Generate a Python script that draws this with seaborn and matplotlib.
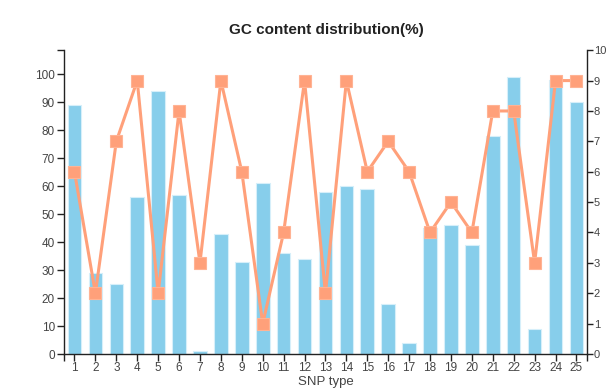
import matplotlib
matplotlib.use("Agg")
import matplotlib.pyplot as plt
import seaborn as sns
import numpy as np
import pandas as pd

# data
snp_types = [str(i) for i in range(1, 26)]
gc_content = [89, 29, 25, 56, 94, 57, 1, 43, 33, 61, 36, 34, 58, 60, 59,
              18, 4, 45, 46, 39, 78, 99, 9, 98, 90]
snp_count = [6, 2, 7, 9, 2, 8, 3, 9, 6, 1, 4, 9, 2, 9, 6,
             7, 6, 4, 5, 4, 8, 8, 3, 9, 9]
left_ticks = list(range(0, 101, 10))
right_ticks = list(range(0, 11))

sns.set_style("white")
plt.rcParams['font.family'] = ['Liberation Sans', 'DejaVu Sans']

df = pd.DataFrame({"snp": snp_types, "gc": gc_content, "count": snp_count})

fig = plt.figure(figsize=(6.08, 3.91), dpi=100)
ax = fig.add_axes([0.1053, 0.0946, 0.86, 0.777])

bar_col = '#87CEEB'
line_col = '#FFA07A'
txt_col = '#444444'

sns.barplot(data=df, x="snp", y="gc", color=bar_col, saturation=1,
            width=0.65, edgecolor='#d6effa', linewidth=0.8, ax=ax)
ax.set_xlim(-0.5, len(snp_types) - 0.5)
ax.set_ylim(0, 108.6)
ax.set_yticks(left_ticks)
ax.set_yticks([108.6], minor=True)
ax.set_xticks([-0.5, len(snp_types) - 0.5], minor=True)
ax.set_xlabel("SNP type", color=txt_col, fontsize=9.5, labelpad=1)
ax.set_ylabel("")

ax2 = ax.twinx()
sns.lineplot(x=np.arange(len(snp_types)), y=df["count"], color=line_col,
             linewidth=2.2, marker='s', markersize=8,
             markeredgecolor='#ffb394', markeredgewidth=0.8, ax=ax2)
ax2.set_ylim(0, 10)
ax2.set_yticks(right_ticks)
ax2.set_ylabel("")
ax.set_xlim(-0.5, len(snp_types) - 0.5)

for a in (ax, ax2):
    for s in a.spines.values():
        s.set_visible(False)
    a.tick_params(which='both', direction='out', length=5, width=1,
                  color='#222222', labelcolor=txt_col, labelsize=8.5, pad=1.5)
ax.spines['left'].set_visible(True)
ax.spines['bottom'].set_visible(True)
ax2.spines['right'].set_visible(True)
for s in (ax.spines['left'], ax.spines['bottom'], ax2.spines['right']):
    s.set_color('#222222')
    s.set_linewidth(1)
ax.tick_params(axis='x', which='both', bottom=True, pad=1)
ax.tick_params(axis='y', which='both', left=True)
ax2.tick_params(axis='y', which='both', right=True, length=4, pad=1,
                labelsize=8)

fig.suptitle("GC content distribution(%)", x=0.537, y=0.94,
             fontsize=11, fontweight='bold', color='#222222')

fig.savefig("out.png", dpi=100)
